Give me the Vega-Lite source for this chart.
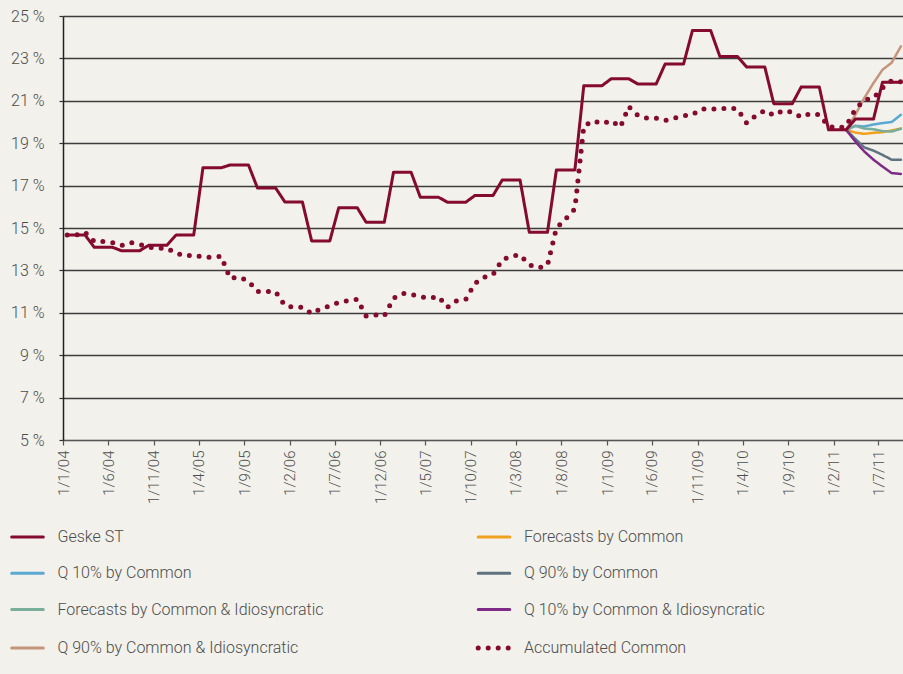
{
  "$schema": "https://vega.github.io/schema/vega-lite/v6.json",
  "width": 840,
  "height": 424,
  "autosize": {"type": "none"},
  "padding": {"left": 63, "top": 16, "right": 0, "bottom": 234},
  "background": "#f2f1eb",
  "config": {
    "view": {"stroke": null},
    "font": "Roboto",
    "legend": {
      "columnPadding": 144.5, "rowPadding": 20.3, "padding": 0,
      "symbolType": "stroke", "symbolSize": 1000, "symbolStrokeWidth": 3,
      "labelFont": "Roboto", "labelFontWeight": 300, "labelFontSize": 16, "labelColor": "#4d4d4d",
      "labelOffset": 22, "labelLimit": 400
    }
  },
  "data": {"values": [
    {"d":"2004-01-15","s":"Geske ST","v":14.67},{"d":"2004-02-15","s":"Geske ST","v":14.67},{"d":"2004-03-15","s":"Geske ST","v":14.67},{"d":"2004-04-15","s":"Geske ST","v":14.09},{"d":"2004-05-15","s":"Geske ST","v":14.09},{"d":"2004-06-15","s":"Geske ST","v":14.09},{"d":"2004-07-15","s":"Geske ST","v":13.93},{"d":"2004-08-15","s":"Geske ST","v":13.93},{"d":"2004-09-15","s":"Geske ST","v":13.93},{"d":"2004-10-15","s":"Geske ST","v":14.19},{"d":"2004-11-15","s":"Geske ST","v":14.19},{"d":"2004-12-15","s":"Geske ST","v":14.19},
    {"d":"2005-01-15","s":"Geske ST","v":14.67},{"d":"2005-02-15","s":"Geske ST","v":14.67},{"d":"2005-03-15","s":"Geske ST","v":14.67},{"d":"2005-04-15","s":"Geske ST","v":17.84},{"d":"2005-05-15","s":"Geske ST","v":17.84},{"d":"2005-06-15","s":"Geske ST","v":17.84},{"d":"2005-07-15","s":"Geske ST","v":17.97},{"d":"2005-08-15","s":"Geske ST","v":17.97},{"d":"2005-09-15","s":"Geske ST","v":17.97},{"d":"2005-10-15","s":"Geske ST","v":16.89},{"d":"2005-11-15","s":"Geske ST","v":16.89},{"d":"2005-12-15","s":"Geske ST","v":16.89},
    {"d":"2006-01-15","s":"Geske ST","v":16.23},{"d":"2006-02-15","s":"Geske ST","v":16.23},{"d":"2006-03-15","s":"Geske ST","v":16.23},{"d":"2006-04-15","s":"Geske ST","v":14.39},{"d":"2006-05-15","s":"Geske ST","v":14.39},{"d":"2006-06-15","s":"Geske ST","v":14.39},{"d":"2006-07-15","s":"Geske ST","v":15.96},{"d":"2006-08-15","s":"Geske ST","v":15.96},{"d":"2006-09-15","s":"Geske ST","v":15.96},{"d":"2006-10-15","s":"Geske ST","v":15.27},{"d":"2006-11-15","s":"Geske ST","v":15.27},{"d":"2006-12-15","s":"Geske ST","v":15.27},
    {"d":"2007-01-15","s":"Geske ST","v":17.63},{"d":"2007-02-15","s":"Geske ST","v":17.63},{"d":"2007-03-15","s":"Geske ST","v":17.63},{"d":"2007-04-15","s":"Geske ST","v":16.45},{"d":"2007-05-15","s":"Geske ST","v":16.45},{"d":"2007-06-15","s":"Geske ST","v":16.45},{"d":"2007-07-15","s":"Geske ST","v":16.22},{"d":"2007-08-15","s":"Geske ST","v":16.22},{"d":"2007-09-15","s":"Geske ST","v":16.22},{"d":"2007-10-15","s":"Geske ST","v":16.53},{"d":"2007-11-15","s":"Geske ST","v":16.53},{"d":"2007-12-15","s":"Geske ST","v":16.53},
    {"d":"2008-01-15","s":"Geske ST","v":17.26},{"d":"2008-02-15","s":"Geske ST","v":17.26},{"d":"2008-03-15","s":"Geske ST","v":17.26},{"d":"2008-04-15","s":"Geske ST","v":14.8},{"d":"2008-05-15","s":"Geske ST","v":14.8},{"d":"2008-06-15","s":"Geske ST","v":14.8},{"d":"2008-07-15","s":"Geske ST","v":17.74},{"d":"2008-08-15","s":"Geske ST","v":17.74},{"d":"2008-09-15","s":"Geske ST","v":17.74},{"d":"2008-10-15","s":"Geske ST","v":21.71},{"d":"2008-11-15","s":"Geske ST","v":21.71},{"d":"2008-12-15","s":"Geske ST","v":21.71},
    {"d":"2009-01-15","s":"Geske ST","v":22.04},{"d":"2009-02-15","s":"Geske ST","v":22.04},{"d":"2009-03-15","s":"Geske ST","v":22.04},{"d":"2009-04-15","s":"Geske ST","v":21.79},{"d":"2009-05-15","s":"Geske ST","v":21.79},{"d":"2009-06-15","s":"Geske ST","v":21.79},{"d":"2009-07-15","s":"Geske ST","v":22.73},{"d":"2009-08-15","s":"Geske ST","v":22.73},{"d":"2009-09-15","s":"Geske ST","v":22.73},{"d":"2009-10-15","s":"Geske ST","v":24.32},{"d":"2009-11-15","s":"Geske ST","v":24.32},{"d":"2009-12-15","s":"Geske ST","v":24.32},
    {"d":"2010-01-15","s":"Geske ST","v":23.09},{"d":"2010-02-15","s":"Geske ST","v":23.09},{"d":"2010-03-15","s":"Geske ST","v":23.09},{"d":"2010-04-15","s":"Geske ST","v":22.59},{"d":"2010-05-15","s":"Geske ST","v":22.59},{"d":"2010-06-15","s":"Geske ST","v":22.59},{"d":"2010-07-15","s":"Geske ST","v":20.86},{"d":"2010-08-15","s":"Geske ST","v":20.86},{"d":"2010-09-15","s":"Geske ST","v":20.86},{"d":"2010-10-15","s":"Geske ST","v":21.65},{"d":"2010-11-15","s":"Geske ST","v":21.65},{"d":"2010-12-15","s":"Geske ST","v":21.65},
    {"d":"2011-01-15","s":"Geske ST","v":19.63},{"d":"2011-02-15","s":"Geske ST","v":19.63},{"d":"2011-03-15","s":"Geske ST","v":19.63},{"d":"2011-04-15","s":"Geske ST","v":20.14},{"d":"2011-05-15","s":"Geske ST","v":20.14},{"d":"2011-06-15","s":"Geske ST","v":20.14},{"d":"2011-07-15","s":"Geske ST","v":21.87},{"d":"2011-08-15","s":"Geske ST","v":21.87},{"d":"2011-09-15","s":"Geske ST","v":21.87},

    {"d":"2004-01-15","s":"Accumulated Common","v":14.67},{"d":"2004-02-15","s":"Accumulated Common","v":14.67},{"d":"2004-03-15","s":"Accumulated Common","v":14.8},{"d":"2004-04-15","s":"Accumulated Common","v":14.36},{"d":"2004-05-15","s":"Accumulated Common","v":14.36},{"d":"2004-06-15","s":"Accumulated Common","v":14.31},{"d":"2004-07-15","s":"Accumulated Common","v":14.17},{"d":"2004-08-15","s":"Accumulated Common","v":14.31},{"d":"2004-09-15","s":"Accumulated Common","v":14.23},{"d":"2004-10-15","s":"Accumulated Common","v":14.09},{"d":"2004-11-15","s":"Accumulated Common","v":14.05},{"d":"2004-12-15","s":"Accumulated Common","v":14.05},
    {"d":"2005-01-15","s":"Accumulated Common","v":13.81},{"d":"2005-02-15","s":"Accumulated Common","v":13.67},{"d":"2005-03-15","s":"Accumulated Common","v":13.73},{"d":"2005-04-15","s":"Accumulated Common","v":13.62},{"d":"2005-05-15","s":"Accumulated Common","v":13.62},{"d":"2005-06-15","s":"Accumulated Common","v":13.67},{"d":"2005-07-15","s":"Accumulated Common","v":12.63},{"d":"2005-08-15","s":"Accumulated Common","v":12.68},{"d":"2005-09-15","s":"Accumulated Common","v":12.49},{"d":"2005-10-15","s":"Accumulated Common","v":12.0},{"d":"2005-11-15","s":"Accumulated Common","v":12.0},{"d":"2005-12-15","s":"Accumulated Common","v":12.0},
    {"d":"2006-01-15","s":"Accumulated Common","v":11.34},{"d":"2006-02-15","s":"Accumulated Common","v":11.26},{"d":"2006-03-15","s":"Accumulated Common","v":11.26},{"d":"2006-04-15","s":"Accumulated Common","v":10.96},{"d":"2006-05-15","s":"Accumulated Common","v":11.19},{"d":"2006-06-15","s":"Accumulated Common","v":11.32},{"d":"2006-07-15","s":"Accumulated Common","v":11.5},{"d":"2006-08-15","s":"Accumulated Common","v":11.57},{"d":"2006-09-15","s":"Accumulated Common","v":11.64},{"d":"2006-10-15","s":"Accumulated Common","v":10.85},{"d":"2006-11-15","s":"Accumulated Common","v":10.9},{"d":"2006-12-15","s":"Accumulated Common","v":10.85},
    {"d":"2007-01-15","s":"Accumulated Common","v":11.69},{"d":"2007-02-15","s":"Accumulated Common","v":11.92},{"d":"2007-03-15","s":"Accumulated Common","v":11.87},{"d":"2007-04-15","s":"Accumulated Common","v":11.76},{"d":"2007-05-15","s":"Accumulated Common","v":11.69},{"d":"2007-06-15","s":"Accumulated Common","v":11.76},{"d":"2007-07-15","s":"Accumulated Common","v":11.26},{"d":"2007-08-15","s":"Accumulated Common","v":11.57},{"d":"2007-09-15","s":"Accumulated Common","v":11.64},{"d":"2007-10-15","s":"Accumulated Common","v":12.38},{"d":"2007-11-15","s":"Accumulated Common","v":12.68},{"d":"2007-12-15","s":"Accumulated Common","v":12.8},
    {"d":"2008-01-15","s":"Accumulated Common","v":13.5},{"d":"2008-02-15","s":"Accumulated Common","v":13.67},{"d":"2008-03-15","s":"Accumulated Common","v":13.73},{"d":"2008-04-15","s":"Accumulated Common","v":13.26},{"d":"2008-05-15","s":"Accumulated Common","v":13.12},{"d":"2008-06-15","s":"Accumulated Common","v":13.24},{"d":"2008-07-15","s":"Accumulated Common","v":15.0},{"d":"2008-08-15","s":"Accumulated Common","v":15.43},{"d":"2008-09-15","s":"Accumulated Common","v":15.9},{"d":"2008-10-15","s":"Accumulated Common","v":19.8},{"d":"2008-11-15","s":"Accumulated Common","v":20.06},{"d":"2008-12-15","s":"Accumulated Common","v":19.92},
    {"d":"2009-01-15","s":"Accumulated Common","v":20.06},{"d":"2009-02-15","s":"Accumulated Common","v":19.76},{"d":"2009-03-15","s":"Accumulated Common","v":20.73},{"d":"2009-04-15","s":"Accumulated Common","v":20.31},{"d":"2009-05-15","s":"Accumulated Common","v":20.18},{"d":"2009-06-15","s":"Accumulated Common","v":20.18},{"d":"2009-07-15","s":"Accumulated Common","v":20.07},{"d":"2009-08-15","s":"Accumulated Common","v":20.18},{"d":"2009-09-15","s":"Accumulated Common","v":20.29},{"d":"2009-10-15","s":"Accumulated Common","v":20.35},{"d":"2009-11-15","s":"Accumulated Common","v":20.61},{"d":"2009-12-15","s":"Accumulated Common","v":20.61},
    {"d":"2010-01-15","s":"Accumulated Common","v":20.61},{"d":"2010-02-15","s":"Accumulated Common","v":20.67},{"d":"2010-03-15","s":"Accumulated Common","v":20.61},{"d":"2010-04-15","s":"Accumulated Common","v":19.95},{"d":"2010-05-15","s":"Accumulated Common","v":20.29},{"d":"2010-06-15","s":"Accumulated Common","v":20.54},{"d":"2010-07-15","s":"Accumulated Common","v":20.31},{"d":"2010-08-15","s":"Accumulated Common","v":20.54},{"d":"2010-09-15","s":"Accumulated Common","v":20.47},{"d":"2010-10-15","s":"Accumulated Common","v":20.23},{"d":"2010-11-15","s":"Accumulated Common","v":20.4},{"d":"2010-12-15","s":"Accumulated Common","v":20.34},
    {"d":"2011-01-15","s":"Accumulated Common","v":19.8},{"d":"2011-02-15","s":"Accumulated Common","v":19.71},{"d":"2011-03-15","s":"Accumulated Common","v":19.8},{"d":"2011-04-15","s":"Accumulated Common","v":20.6},{"d":"2011-05-15","s":"Accumulated Common","v":21.03},{"d":"2011-06-15","s":"Accumulated Common","v":21.14},{"d":"2011-07-15","s":"Accumulated Common","v":21.6},{"d":"2011-08-15","s":"Accumulated Common","v":21.95},{"d":"2011-09-15","s":"Accumulated Common","v":21.9},

    {"d":"2011-03-15","s":"Forecasts by Common","v":19.63},{"d":"2011-04-15","s":"Forecasts by Common","v":19.5},{"d":"2011-05-15","s":"Forecasts by Common","v":19.44},{"d":"2011-06-15","s":"Forecasts by Common","v":19.49},{"d":"2011-07-15","s":"Forecasts by Common","v":19.52},{"d":"2011-08-15","s":"Forecasts by Common","v":19.6},{"d":"2011-09-15","s":"Forecasts by Common","v":19.69},
    {"d":"2011-03-15","s":"Q 10% by Common","v":19.63},{"d":"2011-04-15","s":"Q 10% by Common","v":19.82},{"d":"2011-05-15","s":"Q 10% by Common","v":19.79},{"d":"2011-06-15","s":"Q 10% by Common","v":19.88},{"d":"2011-07-15","s":"Q 10% by Common","v":19.95},{"d":"2011-08-15","s":"Q 10% by Common","v":20.0},{"d":"2011-09-15","s":"Q 10% by Common","v":20.34},
    {"d":"2011-03-15","s":"Q 90% by Common","v":19.63},{"d":"2011-04-15","s":"Q 90% by Common","v":19.2},{"d":"2011-05-15","s":"Q 90% by Common","v":18.8},{"d":"2011-06-15","s":"Q 90% by Common","v":18.65},{"d":"2011-07-15","s":"Q 90% by Common","v":18.45},{"d":"2011-08-15","s":"Q 90% by Common","v":18.22},{"d":"2011-09-15","s":"Q 90% by Common","v":18.22},
    {"d":"2011-03-15","s":"Forecasts by Common & Idiosyncratic","v":19.63},{"d":"2011-04-15","s":"Forecasts by Common & Idiosyncratic","v":19.82},{"d":"2011-05-15","s":"Forecasts by Common & Idiosyncratic","v":19.69},{"d":"2011-06-15","s":"Forecasts by Common & Idiosyncratic","v":19.66},{"d":"2011-07-15","s":"Forecasts by Common & Idiosyncratic","v":19.57},{"d":"2011-08-15","s":"Forecasts by Common & Idiosyncratic","v":19.55},{"d":"2011-09-15","s":"Forecasts by Common & Idiosyncratic","v":19.68},
    {"d":"2011-03-15","s":"Q 10% by Common & Idiosyncratic","v":19.63},{"d":"2011-04-15","s":"Q 10% by Common & Idiosyncratic","v":19.08},{"d":"2011-05-15","s":"Q 10% by Common & Idiosyncratic","v":18.61},{"d":"2011-06-15","s":"Q 10% by Common & Idiosyncratic","v":18.22},{"d":"2011-07-15","s":"Q 10% by Common & Idiosyncratic","v":17.9},{"d":"2011-08-15","s":"Q 10% by Common & Idiosyncratic","v":17.59},{"d":"2011-09-15","s":"Q 10% by Common & Idiosyncratic","v":17.55},
    {"d":"2011-03-15","s":"Q 90% by Common & Idiosyncratic","v":19.63},{"d":"2011-04-15","s":"Q 90% by Common & Idiosyncratic","v":20.34},{"d":"2011-05-15","s":"Q 90% by Common & Idiosyncratic","v":21.13},{"d":"2011-06-15","s":"Q 90% by Common & Idiosyncratic","v":21.84},{"d":"2011-07-15","s":"Q 90% by Common & Idiosyncratic","v":22.46},{"d":"2011-08-15","s":"Q 90% by Common & Idiosyncratic","v":22.8},{"d":"2011-09-15","s":"Q 90% by Common & Idiosyncratic","v":23.57}
  ]},
  "encoding": {
    "x": {
      "field": "d", "type": "temporal",
      "scale": {"type": "utc", "domain": [{"year": 2004, "month": 1, "date": 1, "utc": true}, {"year": 2011, "month": 9, "date": 22, "utc": true}]},
      "axis": {
        "title": null, "grid": false,
        "values": [
          {"year": 2004, "month": 1, "date": 1, "utc": true}, {"year": 2004, "month": 6, "date": 1, "utc": true}, {"year": 2004, "month": 11, "date": 1, "utc": true},
          {"year": 2005, "month": 4, "date": 1, "utc": true}, {"year": 2005, "month": 9, "date": 1, "utc": true},
          {"year": 2006, "month": 2, "date": 1, "utc": true}, {"year": 2006, "month": 7, "date": 1, "utc": true}, {"year": 2006, "month": 12, "date": 1, "utc": true},
          {"year": 2007, "month": 5, "date": 1, "utc": true}, {"year": 2007, "month": 10, "date": 1, "utc": true},
          {"year": 2008, "month": 3, "date": 1, "utc": true}, {"year": 2008, "month": 8, "date": 1, "utc": true},
          {"year": 2009, "month": 1, "date": 1, "utc": true}, {"year": 2009, "month": 6, "date": 1, "utc": true}, {"year": 2009, "month": 11, "date": 1, "utc": true},
          {"year": 2010, "month": 4, "date": 1, "utc": true}, {"year": 2010, "month": 9, "date": 1, "utc": true},
          {"year": 2011, "month": 2, "date": 1, "utc": true}, {"year": 2011, "month": 7, "date": 1, "utc": true}
        ],
        "labelExpr": "utcFormat(datum.value, '%-d/%-m/%y')",
        "labelAngle": 270, "labelAlign": "right", "labelBaseline": "middle",
        "labelFont": "Roboto", "labelFontWeight": 300, "labelFontSize": 15, "labelColor": "#4d4d4d",
        "labelPadding": 5, "labelOverlap": false,
        "tickSize": 5, "tickColor": "#555555", "tickWidth": 1.2,
        "domainColor": "#555555", "domainWidth": 1.2
      }
    },
    "y": {
      "field": "v", "type": "quantitative",
      "scale": {"domain": [5, 25], "nice": false, "zero": false},
      "axis": {
        "title": null, "values": [5, 7, 9, 11, 13, 15, 17, 19, 21, 23, 25],
        "labelExpr": "datum.value + ' %'",
        "grid": true, "gridColor": "#3d3d3d", "gridWidth": 1.3,
        "domainColor": "#222222", "domainWidth": 1.5,
        "tickSize": 4, "tickColor": "#333333", "tickWidth": 1.2,
        "labelFont": "Roboto", "labelFontWeight": 300, "labelFontSize": 16, "labelColor": "#4d4d4d",
        "labelPadding": 15
      }
    },
    "color": {
      "field": "s", "type": "nominal",
      "scale": {
        "domain": ["Geske ST", "Q 10% by Common", "Forecasts by Common & Idiosyncratic", "Q 90% by Common & Idiosyncratic", "Forecasts by Common", "Q 90% by Common", "Q 10% by Common & Idiosyncratic", "Accumulated Common"],
        "range": ["#840b2f", "#5ba9d3", "#79ae9c", "#c4957a", "#f0a21e", "#5e7280", "#7e2a88", "#840b2f"]
      },
      "legend": {
        "title": null, "orient": "none", "legendX": -43.5, "legendY": 513,
        "direction": "vertical", "columns": 2,
        "encode": {"symbols": {"update": {"strokeCap": {"value": "round"}, "strokeWidth": {"signal": "datum.value === 'Accumulated Common' ? 5 : 3"}}}}
      }
    },
    "strokeDash": {
      "field": "s", "type": "nominal",
      "scale": {
        "domain": ["Geske ST", "Q 10% by Common", "Forecasts by Common & Idiosyncratic", "Q 90% by Common & Idiosyncratic", "Forecasts by Common", "Q 90% by Common", "Q 10% by Common & Idiosyncratic", "Accumulated Common"],
        "range": [[1, 0], [1, 0], [1, 0], [1, 0], [1, 0], [1, 0], [1, 0], [0, 10]]
      },
      "legend": {
        "title": null, "orient": "none", "legendX": -43.5, "legendY": 513,
        "direction": "vertical", "columns": 2,
        "encode": {"symbols": {"update": {"strokeCap": {"value": "round"}, "strokeWidth": {"signal": "datum.value === 'Accumulated Common' ? 5 : 3"}}}}
      }
    },
    "order": {"field": "d", "type": "temporal"}
  },
  "layer": [
    {
      "transform": [{"filter": {"field": "s", "oneOf": ["Forecasts by Common", "Q 10% by Common", "Q 90% by Common", "Forecasts by Common & Idiosyncratic", "Q 10% by Common & Idiosyncratic", "Q 90% by Common & Idiosyncratic"]}}],
      "mark": {"type": "line", "strokeWidth": 2.5, "strokeCap": "round", "strokeJoin": "round", "clip": true}
    },
    {
      "transform": [{"filter": {"field": "s", "equal": "Accumulated Common"}}],
      "mark": {"type": "line", "strokeWidth": 5, "strokeCap": "round", "strokeJoin": "round", "clip": true}
    },
    {
      "transform": [{"filter": {"field": "s", "equal": "Geske ST"}}],
      "mark": {"type": "line", "strokeWidth": 3, "strokeCap": "round", "strokeJoin": "round", "clip": true}
    }
  ]
}
